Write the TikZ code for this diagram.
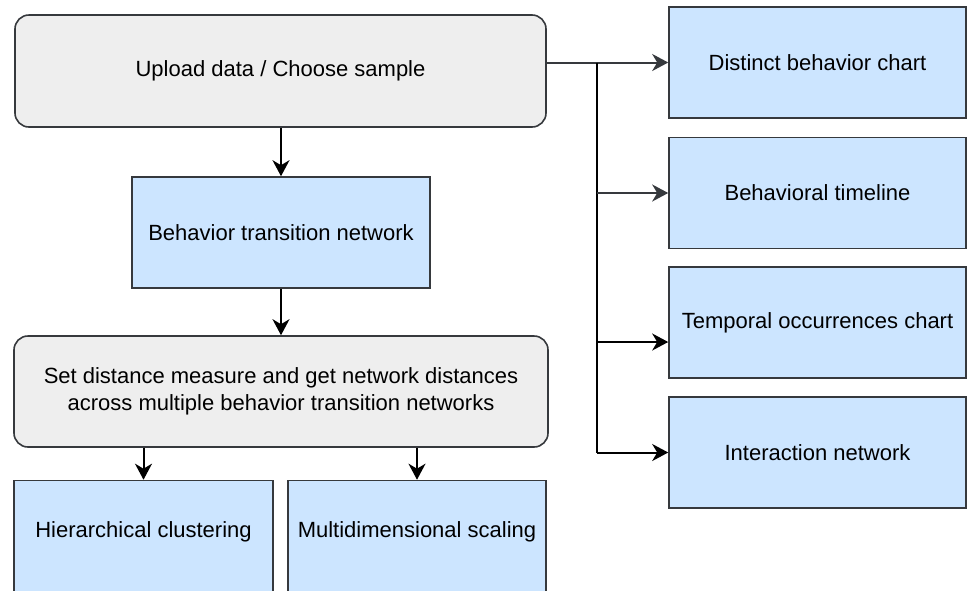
\documentclass[tikz,border=0pt]{standalone}
\usepackage{fontspec}
\setmainfont{Liberation Sans}
\usetikzlibrary{arrows.meta}
\definecolor{boxgray}{HTML}{EEEEEE}
\definecolor{boxblue}{HTML}{CCE5FF}
\definecolor{edgegray}{HTML}{36393D}

\begin{document}
\begin{tikzpicture}[x=0.5pt,y=-0.5pt,
    stepgray/.style={draw=edgegray,fill=boxgray,rounded corners=7pt,line width=0.8pt,minimum height=55.5pt,inner sep=0pt,align=center},
    stepblue/.style={draw=edgegray,fill=boxblue,line width=0.8pt,minimum height=55.5pt,inner sep=0pt,align=center},
    link/.style={line width=1pt,-{Stealth[length=8pt,width=8.5pt,inset=2.5pt]}}]
    \clip (0,0) rectangle (967,590);
    \fontsize{11}{13.5}\selectfont
    \node[stepgray,minimum width=265.5pt,minimum height=56pt] (upload) at (280.5,71){Upload data / Choose sample};
    \node[stepblue,minimum width=149pt] (btn) at (281,232.5){Behavior transition network};
    \node[stepgray,minimum width=267pt] (dist) at (281,391.5){Set distance measure and get network distances\\across multiple behavior transition networks};
    \node[stepblue,minimum width=129.5pt,minimum height=57pt] (hclust) at (143.5,537.5){\raisebox{8pt}{Hierarchical clustering}};
    \node[stepblue,minimum width=129pt,minimum height=57pt] (mds) at (417,537.5){\raisebox{8pt}{Multidimensional scaling}};
    \node[stepblue,minimum width=148.5pt] (distinct) at (817.5,62.5){Distinct behavior chart};
    \node[stepblue,minimum width=148.5pt] (timeline) at (817.5,193){Behavioral timeline};
    \node[stepblue,minimum width=148.5pt] (temporal) at (817.5,322.5){\raisebox{2pt}{Temporal occurrences chart}};
    \node[stepblue,minimum width=148.5pt] (interact) at (817.5,452.5){Interaction network};
    % main column
    \draw[link] (upload.south -| btn) -- (btn.north);
    \draw[link] (btn.south) -- (dist.north -| btn);
    \draw[link] (hclust.north |- dist.south) -- (hclust.north);
    \draw[link] (mds.north |- dist.south) -- (mds.north);
    % views on the right
    \coordinate (split) at (597,62.5); \coordinate (tap) at (597,342); \coordinate (foot) at (597,452.5);
    \draw[link,edgegray] (upload.east |- distinct.west) -- (distinct.west);
    \draw[line width=1pt] (split) -- (foot);
    \draw[link,edgegray] (split |- timeline.west) -- (timeline.west);
    \draw[link] (tap) -- (tap -| temporal.west);
    \draw[link] (foot) -- (interact.west);
  \end{tikzpicture}
\end{document}
